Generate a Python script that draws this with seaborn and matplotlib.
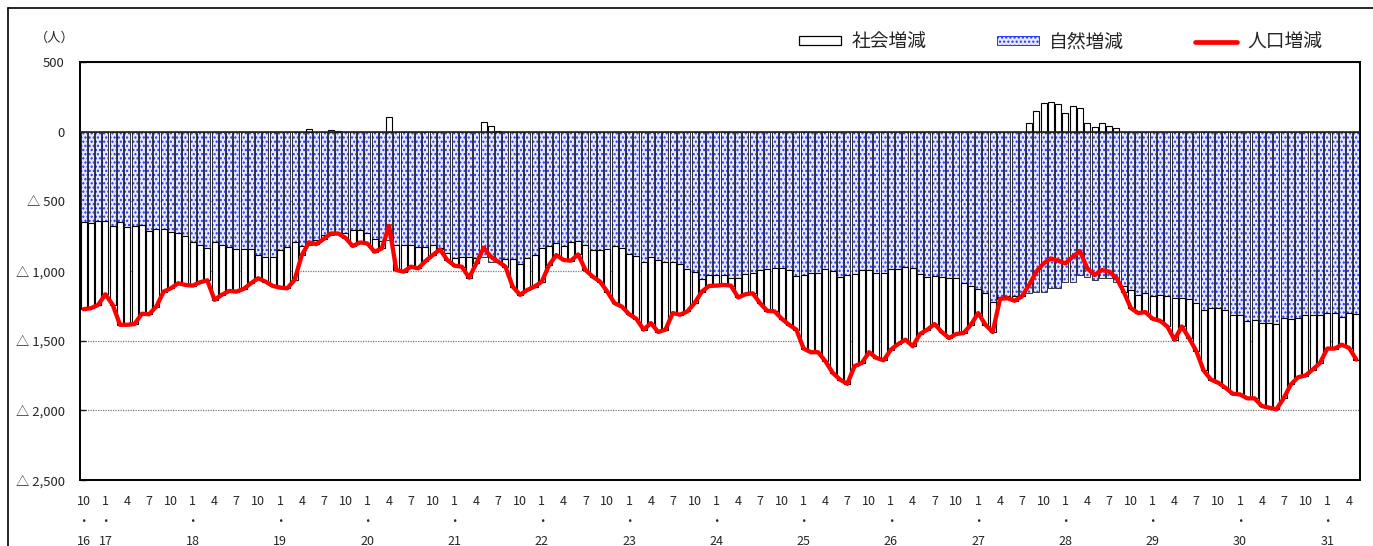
import numpy as np
import matplotlib
matplotlib.use('Agg')
import matplotlib.pyplot as plt
import seaborn as sns
from matplotlib.patches import Patch
from matplotlib.lines import Line2D

# monthly values, Oct (year 16) .. May (year 31)
natural = [
    -648, -652, -640, -640, -679, -650, -683, -679, -667, -714,
    -702, -702, -719, -726, -748, -793, -810, -838, -795, -810,
    -829, -845, -845, -845, -886, -902, -902, -850, -826, -790,
    -819, -814, -779, -743, -740, -736, -724, -707, -707, -726,
    -767, -783, -779, -810, -814, -810, -831, -826, -814, -838,
    -874, -905, -898, -902, -910, -900, -936, -938, -914, -917,
    -950, -905, -886, -838, -819, -798, -819, -790, -786, -814,
    -850, -850, -843, -819, -838, -881, -890, -933, -902, -921,
    -933, -933, -952, -988, -1005, -1060, -1029, -1029, -1029, -1052,
    -1052, -1021, -1012, -993, -986, -981, -976, -993, -1033, -1029,
    -1017, -1012, -988, -998, -1040, -1029, -1024, -993, -993, -1017,
    -1017, -986, -986, -969, -981, -1021, -1040, -1033, -1040, -1052,
    -1052, -1088, -1105, -1131, -1160, -1219, -1190, -1183, -1183, -1171,
    -1160, -1152, -1148, -1125, -1124, -1080, -1081, -1029, -1040, -1064,
    -1052, -1048, -1076, -1105, -1136, -1171, -1160, -1183, -1171, -1176,
    -1195, -1195, -1200, -1231, -1279, -1267, -1267, -1279, -1314, -1314,
    -1357, -1355, -1374, -1374, -1381, -1338, -1343, -1338, -1314, -1314,
    -1314, -1302, -1302, -1331, -1302, -1307,
]
population = [
    -1274, -1267, -1243, -1167, -1243, -1386, -1386, -1381, -1307, -1310,
    -1255, -1148, -1124, -1088, -1100, -1105, -1081, -1067, -1207, -1171,
    -1143, -1148, -1129, -1088, -1052, -1076, -1107, -1119, -1124, -1064,
    -886, -795, -807, -771, -731, -731, -762, -821, -795, -802,
    -862, -838, -676, -993, -1005, -969, -981, -929, -886, -845,
    -921, -962, -969, -1048, -945, -833, -898, -933, -969, -1112,
    -1171, -1136, -1112, -1076, -957, -886, -921, -926, -881, -993,
    -1040, -1076, -1148, -1231, -1255, -1310, -1343, -1421, -1374, -1438,
    -1421, -1302, -1314, -1290, -1231, -1148, -1107, -1105, -1100, -1105,
    -1190, -1167, -1160, -1231, -1286, -1290, -1343, -1386, -1421, -1557,
    -1583, -1583, -1648, -1731, -1779, -1810, -1683, -1660, -1583, -1624,
    -1641, -1564, -1524, -1493, -1540, -1452, -1421, -1381, -1438, -1481,
    -1452, -1445, -1386, -1302, -1386, -1438, -1200, -1195, -1214, -1183,
    -1100, -1005, -945, -910, -926, -945, -898, -857, -981, -1029,
    -993, -1005, -1048, -1148, -1267, -1302, -1295, -1343, -1357, -1398,
    -1493, -1398, -1481, -1576, -1714, -1779, -1802, -1838, -1881, -1886,
    -1914, -1914, -1969, -1981, -1993, -1914, -1814, -1762, -1750, -1707,
    -1660, -1557, -1557, -1529, -1552, -1636,
]
start_year, start_month = 16, 10
yticks = [500, 0, -500, -1000, -1500, -2000, -2500]

sns.set_theme(style='white')
plt.rcParams['font.family'] = ['Noto Sans CJK JP', 'DejaVu Sans']
plt.rcParams['hatch.linewidth'] = 1.05

n = len(natural)
idx = np.arange(n)
nat = np.array(natural)
pop = np.array(population)
soc = pop - nat
soc_bottom = np.where(soc < 0, nat, 0)

fig = plt.figure(figsize=(13.73, 5.46), dpi=100)
ax = fig.add_axes([80/1373, 1-480/546, 1280/1373, 418/546])

blue_face = '#e6e9ff'
blue_dot = '#2233ff'
sns.barplot(x=idx, y=natural, ax=ax, color=blue_face, saturation=1, width=0.82,
            errorbar=None, hatch='....', edgecolor=blue_dot, linewidth=0, zorder=2)
ax.bar(idx, nat, width=0.82, fill=False, edgecolor='#111122', linewidth=0.6, zorder=3)
ax.bar(idx, soc, bottom=soc_bottom, width=0.82, color='white',
       edgecolor='black', linewidth=0.8, zorder=3)
ax.axhline(0, color='#222222', lw=1.2, zorder=4)
sns.lineplot(x=idx, y=population, ax=ax, color='#ff0000', linewidth=3.1,
             zorder=5, solid_joinstyle='round')

ax.set_xlim(-0.5, n - 0.5)
ax.set_ylim(-2500, 500)
ax.set_yticks(yticks)
ax.set_yticklabels(['500' if v > 0 else '0' if v == 0 else f'△ {-v:,}' for v in yticks],
                   fontsize=9.5)
ax.tick_params(axis='y', direction='in', length=4, width=1, pad=11, left=True)
ax.grid(axis='y', color='#777777', linestyle=(0, (1, 1)), linewidth=0.9)
ax.set_axisbelow(True)

tick_pos, tick_lab = [], []
for i in idx:
    m = (start_month - 1 + i) % 12 + 1
    y = start_year + (start_month - 1 + i) // 12
    if m in (1, 4, 7, 10):
        tick_pos.append(i)
        tick_lab.append(f'{m}\n・\n{y}' if (i == 0 or m == 1) else str(m))
ax.set_xticks(tick_pos)
ax.set_xticklabels(tick_lab, fontsize=9, linespacing=1.7)
ax.tick_params(axis='x', length=0, pad=11)
ax.set_xlabel('')
ax.set_ylabel('')
for s in ax.spines.values():
    s.set_color('black')
    s.set_linewidth(1.4)

fig.text(55/1373, 1-38/546, '（人）', ha='center', va='center', fontsize=9.5)

handles = [Patch(facecolor='white', edgecolor='black', linewidth=0.9),
           Patch(facecolor=blue_face, edgecolor=blue_dot, hatch='....', linewidth=0.7),
           Line2D([], [], color='#ff0000', linewidth=3.4)]
fig.legend(handles, ['社会増減', '自然増減', '人口増減'], loc='center left',
           bbox_to_anchor=(799/1373, 1-42/546), ncol=3, frameon=False, fontsize=13.5,
           handlelength=2.25, handleheight=0.38, handletextpad=0.55,
           columnspacing=3.75, borderaxespad=0, borderpad=0)

# outer frame edges visible in the top-left of the image
fig.add_artist(Line2D([8/1373, 1], [1-8/546, 1-8/546], color='black', lw=1.2,
                      transform=fig.transFigure))
fig.add_artist(Line2D([8/1373, 8/1373], [0, 1-8/546], color='black', lw=1.2,
                      transform=fig.transFigure))

fig.savefig('out.png', dpi=100)
